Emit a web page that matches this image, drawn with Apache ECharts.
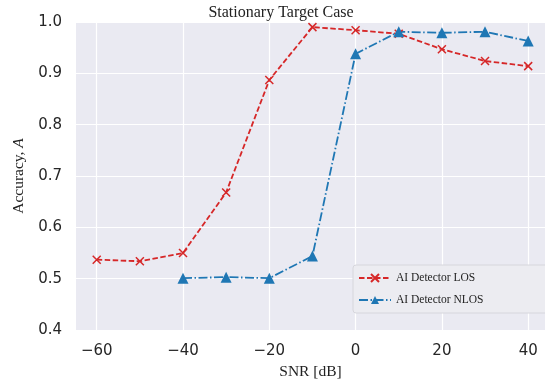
<!DOCTYPE html>
<html><head><meta charset="utf-8">
<script src="https://cdn.jsdelivr.net/npm/echarts@6/dist/echarts.min.js"></script>
<style>html,body{margin:0;padding:0;background:#fff}#c{width:545px;height:379px}</style>
</head><body><div id="c"></div>
<script>
const snr = [-60, -50, -40, -30, -20, -10, 0, 10, 20, 30, 40];
const losAcc = [0.537, 0.534, 0.550, 0.668, 0.887, 0.990, 0.984, 0.977, 0.947, 0.924, 0.914];
const nlosSnr = [-40, -30, -20, -10, 0, 10, 20, 30, 40];
const nlosAcc = [0.501, 0.503, 0.501, 0.544, 0.938, 0.981, 0.979, 0.981, 0.963];
const xTicks = [-60, -40, -20, 0, 20, 40];
const yTicks = [0.4, 0.5, 0.6, 0.7, 0.8, 0.9, 1.0];

const serif = '"Liberation Serif", "DejaVu Serif", serif';
const sans = '"DejaVu Sans", sans-serif';
const chart = echarts.init(document.getElementById('c'), null, {renderer: 'canvas'});
chart.setOption({
  animation: false,
  title: {text: 'Stationary Target Case', left: 276, top: 0, textAlign: 'center',
    textStyle: {fontFamily: serif, fontSize: 16, fontWeight: 'normal', color: '#222'}},
  grid: {left: 76, top: 22, right: 0, bottom: 49, outerBoundsMode: 'none', containLabel: false,
    backgroundColor: '#eaeaf2', show: true, borderWidth: 0},
  legend: {
    orient: 'vertical', left: 353, top: 265, width: 186,
    backgroundColor: '#ececf1', borderColor: '#d6d6dc', borderWidth: 1, borderRadius: 3,
    padding: [7, 68, 7, 5], itemGap: 10, itemWidth: 32, itemHeight: 10,
    textStyle: {fontFamily: serif, fontSize: 11.5, color: '#222'},
    data: ['AI Detector LOS', 'AI Detector NLOS']
  },
  xAxis: {
    type: 'value', min: -64.8, max: 43.9,
    name: 'SNR [dB]', nameLocation: 'middle', nameGap: 30,
    nameTextStyle: {fontFamily: serif, fontSize: 15.5, color: '#222'},
    axisLine: {show: false}, axisTick: {show: false, customValues: xTicks},
    axisLabel: {customValues: xTicks, fontFamily: sans, fontSize: 15, color: '#262626', margin: 14,
      formatter: v => (v < 0 ? '\u2212' + Math.abs(v) : String(v))},
    splitLine: {show: true, lineStyle: {color: '#ffffff', width: 1.2}}
  },
  yAxis: {
    type: 'value', min: 0.4, max: 1.0, interval: 0.1,
    name: 'Accuracy, {i|A}', nameLocation: 'middle', nameGap: 46,
    nameTextStyle: {fontFamily: serif, fontSize: 15.5, color: '#222',
      rich: {i: {fontFamily: serif, fontStyle: 'italic', fontSize: 15.5, color: '#222'}}},
    axisLine: {show: false}, axisTick: {show: false},
    axisLabel: {fontFamily: sans, fontSize: 15, color: '#262626', margin: 14,
      formatter: v => v.toFixed(1)},
    splitLine: {show: true, lineStyle: {color: '#ffffff', width: 1.2}}
  },
  series: [
    {
      name: 'AI Detector LOS', type: 'line',
      data: snr.map((x, i) => [x, losAcc[i]]),
      symbol: 'path://M0,0L10,10M10,0L0,10', symbolSize: 8,
      lineStyle: {color: '#d62728', width: 1.8, type: [5.5, 2.5]},
      itemStyle: {color: 'rgba(0,0,0,0)', borderColor: '#d62728', borderWidth: 1.5},
      clip: false
    },
    {
      name: 'AI Detector NLOS', type: 'line',
      data: nlosSnr.map((x, i) => [x, nlosAcc[i]]),
      symbol: 'triangle', symbolSize: 11,
      lineStyle: {color: '#1f77b4', width: 1.8, type: [9, 2.5, 1.5, 2.5]},
      itemStyle: {color: '#1f77b4', borderWidth: 0},
      clip: false
    }
  ]
});
</script></body></html>
